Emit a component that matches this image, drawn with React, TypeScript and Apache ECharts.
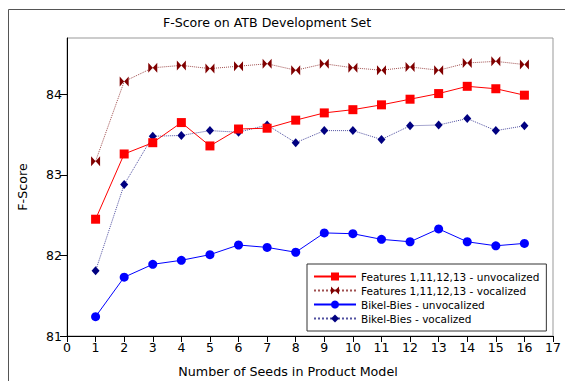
import React, { useEffect, useRef } from "react";
import * as echarts from "echarts";

const seeds = [1, 2, 3, 4, 5, 6, 7, 8, 9, 10, 11, 12, 13, 14, 15, 16];
const featUnvoc = [82.45, 83.26, 83.4, 83.65, 83.36, 83.57, 83.58, 83.68, 83.77, 83.81, 83.87, 83.94, 84.01, 84.1, 84.07, 83.99];
const featVoc = [83.17, 84.16, 84.33, 84.36, 84.32, 84.35, 84.38, 84.3, 84.38, 84.33, 84.3, 84.34, 84.3, 84.39, 84.41, 84.37];
const bbUnvoc = [81.24, 81.73, 81.89, 81.94, 82.01, 82.13, 82.1, 82.04, 82.28, 82.27, 82.2, 82.17, 82.33, 82.17, 82.12, 82.15];
const bbVoc = [81.81, 82.88, 83.48, 83.49, 83.55, 83.53, 83.62, 83.4, 83.55, 83.55, 83.44, 83.61, 83.62, 83.7, 83.55, 83.61];
const yTicks = [81, 82, 83, 84];
const seriesNames = [
  "Features 1,11,12,13 - unvocalized",
  "Features 1,11,12,13 - vocalized",
  "Bikel-Bies - unvocalized",
  "Bikel-Bies - vocalized",
];
const titleText = "F-Score on ATB Development Set";
const xName = "Number of Seeds in Product Model";
const yName = "F-Score";

const FONT = "DejaVu Sans";
const bowtie = "path://M0,0 L10,5 L0,10 Z M20,0 L10,5 L20,10 Z";

const pair = (ys: number[]) => seeds.map((s, i) => [s, ys[i]]);

export default function App() {
  const ref = useRef<HTMLDivElement>(null);
  useEffect(() => {
    const chart = echarts.init(ref.current!, null, { renderer: "svg" });
    chart.setOption({
      animation: false,
      backgroundColor: "#ffffff",
      grid: {
        left: 67,
        top: 38,
        width: 486,
        height: 298,
        show: true,
        borderColor: "#999999",
        borderWidth: 1,
        backgroundColor: "transparent",
      },
      xAxis: {
        type: "value",
        min: 0,
        max: 17,
        interval: 1,
        splitLine: { show: false },
        axisLine: { lineStyle: { color: "#000", width: 1 } },
        axisTick: { length: 6, lineStyle: { color: "#000" } },
        axisLabel: { color: "#000", fontFamily: FONT, fontSize: 12.5, margin: 5 },
      },
      yAxis: {
        type: "value",
        min: 81,
        max: 84.7,
        splitLine: { show: false },
        axisLine: { show: true, lineStyle: { color: "#000", width: 1 } },
        axisTick: { show: true, length: 7, customValues: yTicks, lineStyle: { color: "#000" } },
        axisLabel: { color: "#000", fontFamily: FONT, fontSize: 12.5, margin: 5, customValues: yTicks },
      },
      legend: {
        orient: "vertical",
        left: 307,
        top: 264,
        padding: [7, 7, 7, 6],
        itemWidth: 42,
        itemHeight: 10,
        itemGap: 3,
        borderColor: "#333",
        borderWidth: 1,
        borderRadius: 0,
        backgroundColor: "#fff",
        textStyle: { fontFamily: FONT, fontSize: 10.5, color: "#000" },
        data: seriesNames,
      },
      graphic: [
        {
          type: "rect",
          shape: { x: 8.5, y: 9.5, width: 700, height: 500 },
          style: { fill: "none", stroke: "#555", lineWidth: 1 },
          silent: true,
          z: -10,
        },
        {
          type: "text",
          x: 267,
          y: 22,
          style: { text: titleText, font: `12.6px "${FONT}"`, fill: "#000", textAlign: "center", textVerticalAlign: "middle" },
        },
        {
          type: "text",
          x: 288,
          y: 371,
          style: { text: xName, font: `12.7px "${FONT}"`, fill: "#000", textAlign: "center", textVerticalAlign: "middle" },
        },
        {
          type: "text",
          x: 22,
          y: 187,
          rotation: Math.PI / 2,
          style: { text: yName, font: `12.7px "${FONT}"`, fill: "#000", textAlign: "center", textVerticalAlign: "middle" },
        },
      ],
      series: [
        {
          name: seriesNames[0],
          type: "line",
          data: pair(featUnvoc),
          symbol: "rect",
          symbolSize: 9,
          itemStyle: { color: "#ff0000" },
          lineStyle: { color: "#ff0000", width: 1 },
          z: 4,
        },
        {
          name: seriesNames[1],
          type: "line",
          data: pair(featVoc),
          symbol: bowtie,
          symbolSize: [9, 10],
          itemStyle: { color: "#800000" },
          lineStyle: { color: "#a05050", width: 1, type: "dotted" },
          z: 3,
        },
        {
          name: seriesNames[2],
          type: "line",
          data: pair(bbUnvoc),
          symbol: "circle",
          symbolSize: 9,
          itemStyle: { color: "#0000ff" },
          lineStyle: { color: "#0000ff", width: 1 },
          z: 3,
        },
        {
          name: seriesNames[3],
          type: "line",
          data: pair(bbVoc),
          symbol: "diamond",
          symbolSize: [8, 9],
          itemStyle: { color: "#000080" },
          lineStyle: { color: "#5050a0", width: 1, type: "dotted" },
          z: 3,
        },
      ],
    });
    return () => chart.dispose();
  }, []);
  return (
    <div
      ref={ref}
      style={{ position: "fixed", left: 0, top: 0, width: 565, height: 381 }}
    />
  );
}
